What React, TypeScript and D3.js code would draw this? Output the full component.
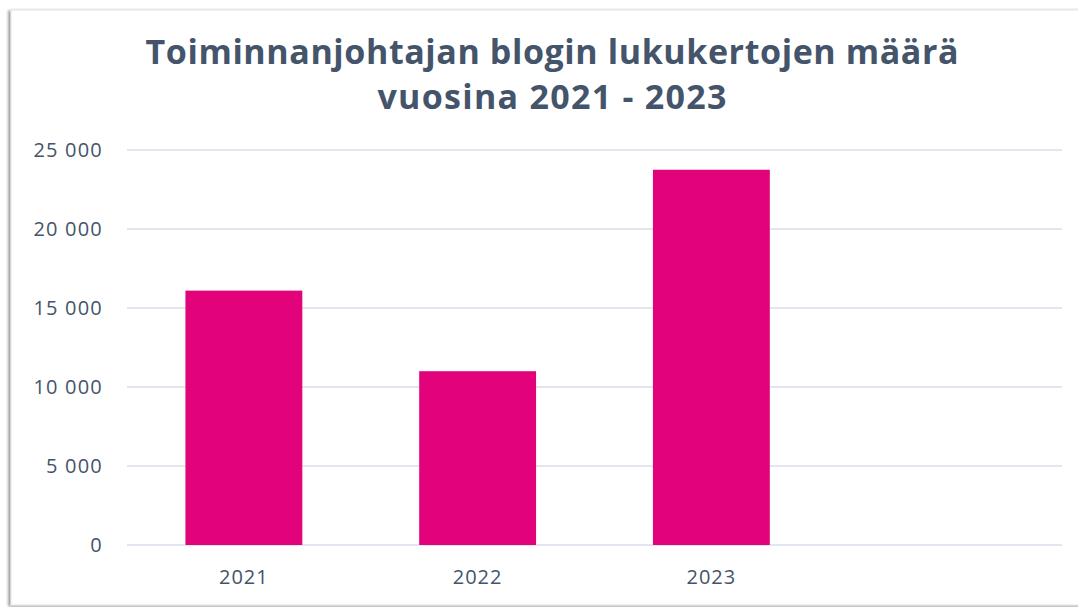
import React from "react";
import * as d3 from "d3";

const categories = ["2021", "2022", "2023", ""];
const values = [16100, 11000, 23750, null];
const yTicks = [0, 5000, 10000, 15000, 20000, 25000];
const titleLines = ["Toiminnanjohtajan blogin lukukertojen määrä", "vuosina 2021 - 2023"];
const titleWidths = [813, 349];

const W = 1078, H = 607;
const left = 127, right = 1062, top = 150, bottom = 545;
const FONT = "'Open Sans', Lato, sans-serif";
const TEXT = "#44546A";

export default function App() {
  const x = d3.scaleBand<string>().domain(categories).range([left, right]).paddingInner(0.5).paddingOuter(0.25);
  const y = d3.scaleLinear().domain([0, 25000]).range([bottom, top]);
  const fmt = (v: number) => d3.format(",")(v).replace(/,/g, " ");
  return (
    <svg width={W} height={H} style={{ position: "absolute", left: 0, top: 0, background: "#fff" }}>
      <defs>
        <filter id="sh" x="-5%" y="-5%" width="110%" height="110%">
          <feDropShadow dx="-2" dy="1" stdDeviation="1.5" floodColor="#000" floodOpacity="0.45" />
        </filter>
      </defs>
      <rect x={11} y={10} width={1080} height={595} fill="#fff" stroke="#dfe3ea" strokeWidth={1} filter="url(#sh)" />
      {titleLines.map((t, i) => (
        <text key={i} x={552} y={64 + i * 45} textAnchor="middle" fontFamily={FONT} fontWeight={700} fontSize={34} fill={TEXT}
          textLength={titleWidths[i]} lengthAdjust="spacing">{t}</text>
      ))}
      {yTicks.map((t) => (
        <g key={t}>
          <line x1={left} x2={right} y1={y(t)} y2={y(t)} stroke="#D9DEE8" strokeWidth={1.5} />
          <text x={103} y={y(t) + 7} textAnchor="end" fontFamily={FONT} fontSize={20} letterSpacing={1.2} fill={TEXT}>{fmt(t)}</text>
        </g>
      ))}
      {categories.map((c, i) => values[i] == null ? null : (
        <rect key={c} x={x(c)} width={x.bandwidth()} y={y(values[i] as number)} height={y(0) - y(values[i] as number)} fill="#E2027A" />
      ))}
      {categories.map((c) => (
        <text key={"l" + c} x={(x(c) as number) + x.bandwidth() / 2} y={584} textAnchor="middle" fontFamily={FONT} fontSize={20} letterSpacing={1} fill={TEXT}>{c}</text>
      ))}
    </svg>
  );
}
